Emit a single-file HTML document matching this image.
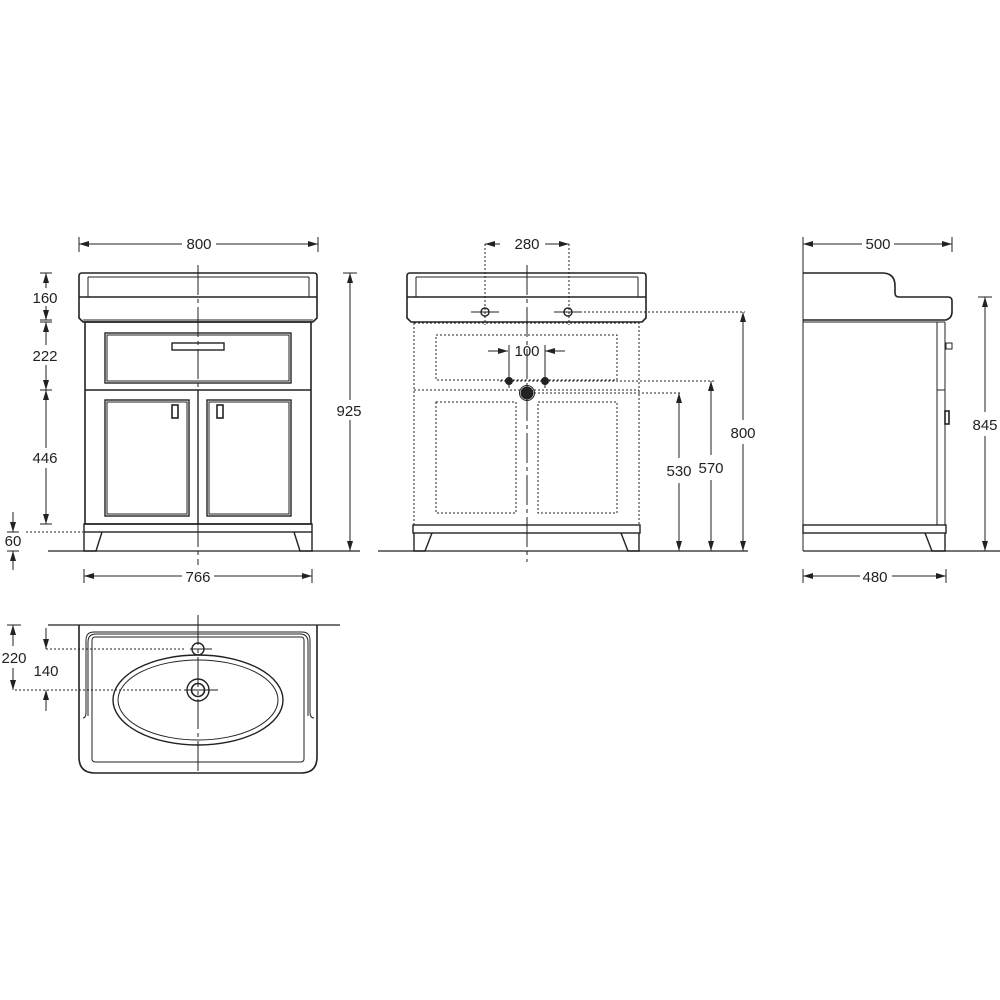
<!DOCTYPE html>
<html><head><meta charset="utf-8"><style>
html,body{margin:0;padding:0;background:#fff}
svg{display:block}
text{font-family:"Liberation Sans",sans-serif;font-size:15px;fill:#222}
</style></head><body>
<svg width="1000" height="1000" viewBox="0 0 1000 1000" xmlns="http://www.w3.org/2000/svg">
<defs>
<marker id="a" viewBox="0 0 10 6" refX="10" refY="3" markerWidth="10" markerHeight="6" orient="auto-start-reverse" markerUnits="userSpaceOnUse"><path d="M0,0 L10,3 L0,6 z" fill="#222"/></marker>
</defs>
<g stroke="#222" fill="none" stroke-width="1">
<!-- ========== LEFT FRONT VIEW ========== -->
<line x1="79" y1="237" x2="79" y2="252"/><line x1="318" y1="237" x2="318" y2="252"/>
<line x1="79" y1="244" x2="182" y2="244" marker-start="url(#a)"/><line x1="216" y1="244" x2="318" y2="244" marker-end="url(#a)"/>
<path d="M82,273 H314 Q317,273 317,276 V318 L313,322 H83 L79,318 V276 Q79,273 82,273 Z" stroke-width="1.6"/>
<line x1="88" y1="277" x2="309" y2="277"/>
<line x1="88" y1="277" x2="88" y2="297"/><line x1="309" y1="277" x2="309" y2="297"/>
<line x1="79" y1="297" x2="317" y2="297" stroke-width="1.4"/>
<line x1="83" y1="320" x2="313" y2="320"/>
<rect x="85" y="322" width="226" height="202" stroke-width="1.6"/>
<rect x="105" y="333" width="186" height="50" stroke-width="1.4"/>
<rect x="107" y="335" width="182" height="46"/>
<rect x="172" y="343" width="52" height="7" stroke-width="1.4"/>
<line x1="85" y1="390" x2="311" y2="390" stroke-width="1.4"/>
<line x1="198" y1="390" x2="198" y2="524" stroke-width="1.4"/>
<rect x="105" y="400" width="84" height="116" stroke-width="1.4"/><rect x="107" y="402" width="80" height="112"/>
<rect x="207" y="400" width="84" height="116" stroke-width="1.4"/><rect x="209" y="402" width="80" height="112"/>
<rect x="172" y="405" width="6" height="13" stroke-width="1.6"/><rect x="217" y="405" width="6" height="13" stroke-width="1.6"/>
<rect x="84" y="524" width="228" height="8" stroke-width="1.4"/>
<path d="M84,532 V551 H96 L102,532" stroke-width="1.4"/><path d="M312,532 V551 H300 L294,532" stroke-width="1.4"/>
<line x1="48" y1="551" x2="360" y2="551" stroke-width="1.2"/>
<line x1="198" y1="265" x2="198" y2="565" stroke-dasharray="30,4,4,4"/>
<!-- left dims -->
<line x1="40" y1="273" x2="52" y2="273"/><line x1="40" y1="320" x2="52" y2="320"/><line x1="40" y1="322" x2="52" y2="322"/><line x1="40" y1="390" x2="52" y2="390"/><line x1="40" y1="524" x2="52" y2="524"/>
<line x1="46" y1="273" x2="46" y2="288" marker-start="url(#a)"/><line x1="46" y1="306" x2="46" y2="320" marker-end="url(#a)"/>
<line x1="46" y1="322" x2="46" y2="345" marker-start="url(#a)"/><line x1="46" y1="365" x2="46" y2="390" marker-end="url(#a)"/>
<line x1="46" y1="390" x2="46" y2="448" marker-start="url(#a)"/><line x1="46" y1="468" x2="46" y2="524" marker-end="url(#a)"/>
<line x1="7" y1="532" x2="19" y2="532"/><line x1="7" y1="551" x2="19" y2="551"/>
<line x1="13" y1="512" x2="13" y2="532" marker-end="url(#a)"/><line x1="13" y1="570" x2="13" y2="551" marker-end="url(#a)"/>
<line x1="26" y1="532" x2="83" y2="532" stroke-dasharray="2,2"/>
<line x1="343" y1="273" x2="357" y2="273"/><line x1="343" y1="551" x2="357" y2="551"/>
<line x1="350" y1="273" x2="350" y2="400" marker-start="url(#a)"/><line x1="350" y1="420" x2="350" y2="551" marker-end="url(#a)"/>
<line x1="84" y1="569" x2="84" y2="583"/><line x1="312" y1="569" x2="312" y2="583"/>
<line x1="84" y1="576" x2="182" y2="576" marker-start="url(#a)"/><line x1="214" y1="576" x2="312" y2="576" marker-end="url(#a)"/>

<!-- ========== MIDDLE VIEW ========== -->
<path d="M410,273 H643 Q646,273 646,276 V318 L642,322 H411 L407,318 V276 Q407,273 410,273 Z" stroke-width="1.6"/>
<line x1="416" y1="277" x2="638" y2="277"/>
<line x1="416" y1="277" x2="416" y2="297"/><line x1="638" y1="277" x2="638" y2="297"/>
<line x1="407" y1="297" x2="646" y2="297" stroke-width="1.4"/>
<g stroke-dasharray="2,2">
<rect x="414" y="323" width="225" height="202"/>
<rect x="436" y="335" width="181" height="45"/>
<line x1="414" y1="390" x2="639" y2="390"/>
<rect x="436" y="402" width="80" height="111"/><rect x="538" y="402" width="79" height="111"/>
<line x1="485" y1="244" x2="485" y2="325"/><line x1="569" y1="244" x2="569" y2="325"/>
<line x1="580" y1="312" x2="745" y2="312"/>
<line x1="500" y1="381" x2="714" y2="381"/>
<line x1="530" y1="393" x2="682" y2="393"/>
</g>
<line x1="485" y1="244" x2="500" y2="244" marker-start="url(#a)"/><line x1="545" y1="244" x2="569" y2="244" marker-end="url(#a)"/>
<line x1="471" y1="312" x2="499" y2="312"/><line x1="554" y1="312" x2="582" y2="312"/>
<circle cx="485" cy="312" r="4" stroke-width="1.4"/><circle cx="568" cy="312" r="4" stroke-width="1.4"/>
<line x1="488" y1="351" x2="508" y2="351" marker-end="url(#a)"/><line x1="565" y1="351" x2="545" y2="351" marker-end="url(#a)"/>
<line x1="509" y1="345" x2="509" y2="388"/><line x1="545" y1="345" x2="545" y2="388"/>
<circle cx="509" cy="381" r="3.5" fill="#222"/><circle cx="545" cy="381" r="3.5" fill="#222"/>
<circle cx="527" cy="393" r="6" fill="#222"/><circle cx="527" cy="393" r="7.5"/>
<line x1="527" y1="265" x2="527" y2="562" stroke-dasharray="30,4,4,4"/>
<rect x="413" y="525" width="227" height="8" stroke-width="1.4"/>
<path d="M414,533 V551 H425 L432,533" stroke-width="1.4"/><path d="M639,533 V551 H628 L621,533" stroke-width="1.4"/>
<line x1="378" y1="551" x2="748" y2="551" stroke-width="1.2"/>
<line x1="743" y1="312" x2="743" y2="420" marker-start="url(#a)"/><line x1="743" y1="444" x2="743" y2="551" marker-end="url(#a)"/>
<line x1="711" y1="381" x2="711" y2="455" marker-start="url(#a)"/><line x1="711" y1="480" x2="711" y2="551" marker-end="url(#a)"/>
<line x1="679" y1="393" x2="679" y2="458" marker-start="url(#a)"/><line x1="679" y1="483" x2="679" y2="551" marker-end="url(#a)"/>

<!-- ========== RIGHT SIDE VIEW ========== -->
<line x1="803" y1="237" x2="803" y2="551"/><line x1="952" y1="237" x2="952" y2="252"/>
<line x1="803" y1="244" x2="862" y2="244" marker-start="url(#a)"/><line x1="894" y1="244" x2="952" y2="244" marker-end="url(#a)"/>
<path d="M803,273 H882 Q895,273 895,286 V293 Q895,297 899,297 H948 Q952,297 952,301 V312 Q952,318 946,320 H803" stroke-width="1.6"/>
<line x1="803" y1="322" x2="945" y2="322"/>
<line x1="937" y1="322" x2="937" y2="525"/><line x1="945" y1="322" x2="945" y2="525"/>
<line x1="937" y1="390" x2="945" y2="390"/>
<rect x="946" y="343" width="6" height="6"/><rect x="945" y="411" width="4" height="13" stroke-width="1.6"/>
<rect x="803" y="525" width="143" height="8" stroke-width="1.4"/>
<path d="M925,533 L932,551 H945 V533" stroke-width="1.4"/>
<line x1="803" y1="551" x2="1000" y2="551" stroke-width="1.2"/>
<line x1="978" y1="297" x2="992" y2="297"/><line x1="978" y1="551" x2="992" y2="551"/>
<line x1="985" y1="297" x2="985" y2="412" marker-start="url(#a)"/><line x1="985" y1="436" x2="985" y2="551" marker-end="url(#a)"/>
<line x1="803" y1="569" x2="803" y2="583"/><line x1="946" y1="569" x2="946" y2="583"/>
<line x1="803" y1="576" x2="860" y2="576" marker-start="url(#a)"/><line x1="892" y1="576" x2="946" y2="576" marker-end="url(#a)"/>

<!-- ========== BASIN PLAN ========== -->
<line x1="48" y1="625" x2="340" y2="625" stroke-width="1.2"/>
<path d="M79,625 V757 Q79,773 95,773 H301 Q317,773 317,757 V625" stroke-width="1.6"/>
<path d="M83,718 Q86,718 86,712 V640 Q86,632 94,632 H302 Q310,632 310,640 V712 Q310,718 314,718"/>
<path d="M88,716 V642 Q88,634 96,634 H300 Q308,634 308,642 V716"/>
<rect x="92" y="637" width="212" height="125" rx="3"/>
<ellipse cx="198" cy="700" rx="85" ry="45" stroke-width="1.4"/>
<ellipse cx="198" cy="700" rx="80" ry="40"/>
<circle cx="198" cy="649" r="6" stroke-width="1.4"/>
<circle cx="198" cy="690" r="11" stroke-width="1.4"/><circle cx="198" cy="690" r="6.5" stroke-width="1.6"/>
<line x1="198" y1="615" x2="198" y2="775" stroke-dasharray="30,4,4,4"/>
<line x1="190" y1="649" x2="212" y2="649"/><line x1="184" y1="690" x2="218" y2="690"/>
<line x1="46" y1="649" x2="186" y2="649" stroke-dasharray="2,2"/>
<line x1="15" y1="690" x2="183" y2="690" stroke-dasharray="2,2"/>
<line x1="7" y1="625" x2="21" y2="625"/>
<line x1="13" y1="625" x2="13" y2="646" marker-start="url(#a)"/><line x1="13" y1="668" x2="13" y2="690" marker-end="url(#a)"/>
<line x1="46" y1="628" x2="46" y2="649" marker-end="url(#a)"/><line x1="46" y1="711" x2="46" y2="690" marker-end="url(#a)"/>
</g>
<g text-anchor="middle">
<text x="199" y="249">800</text>
<text x="45" y="303">160</text>
<text x="45" y="361">222</text>
<text x="45" y="463">446</text>
<text x="13" y="546">60</text>
<text x="349" y="416">925</text>
<text x="198" y="582">766</text>
<text x="527" y="249">280</text>
<text x="527" y="356">100</text>
<text x="743" y="438">800</text>
<text x="711" y="473">570</text>
<text x="679" y="476">530</text>
<text x="878" y="249">500</text>
<text x="985" y="430">845</text>
<text x="875" y="582">480</text>
<text x="14" y="663">220</text>
<text x="46" y="676">140</text>
</g>
</svg>
</body></html>
